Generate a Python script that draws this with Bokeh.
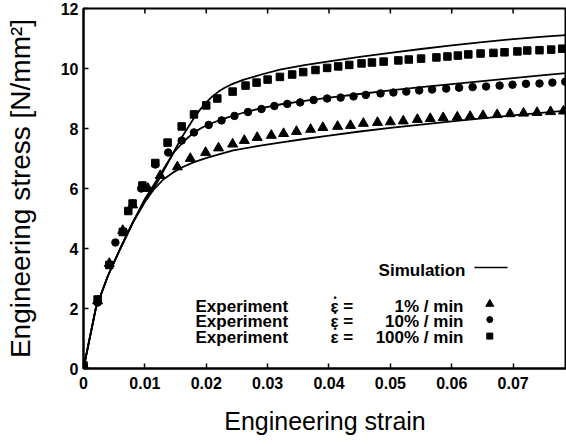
from bokeh.plotting import figure
from bokeh.models import Range1d, FixedTicker, Label
from bokeh.embed import file_html
from bokeh.resources import INLINE

# ---- axis ticks ----
x_ticks = [0.0, 0.01, 0.02, 0.03, 0.04, 0.05, 0.06, 0.07]
x_tick_labels = ["0", "0.01", "0.02", "0.03", "0.04", "0.05", "0.06", "0.07"]
y_ticks = [0, 2, 4, 6, 8, 10, 12]
y_tick_labels = ["0", "2", "4", "6", "8", "10", "12"]

# ---- experiment, 1 %/min (triangles) ----
exp1_x = [0.0, 0.0023, 0.0042, 0.0064, 0.0080, 0.0105, 0.0125, 0.0153, 0.0174, 0.0199,
          0.0220, 0.0243, 0.0262, 0.0283, 0.0306, 0.0326, 0.0347, 0.0370, 0.0390, 0.0414,
          0.0435, 0.0456, 0.0479, 0.0500, 0.0521, 0.0544, 0.0565, 0.0586, 0.0609, 0.0630,
          0.0651, 0.0674, 0.0695, 0.0717, 0.0739, 0.0761, 0.0782]
exp1_y = [0.1, 2.25, 3.5, 4.6, 5.45, 6.0, 6.43, 6.72, 7.0, 7.2,
          7.35, 7.48, 7.6, 7.7, 7.77, 7.83, 7.9, 7.97, 8.03, 8.07,
          8.1, 8.17, 8.2, 8.22, 8.25, 8.3, 8.33, 8.36, 8.38, 8.4,
          8.43, 8.46, 8.49, 8.51, 8.53, 8.56, 8.58]

# ---- experiment, 10 %/min (circles) ----
exp10_x = [0.0, 0.0023, 0.0052, 0.0066, 0.0094, 0.0117, 0.0138, 0.0160, 0.0180, 0.0204,
           0.0225, 0.0246, 0.0268, 0.0290, 0.0311, 0.0332, 0.0353, 0.0375, 0.0397, 0.0419,
           0.0440, 0.0460, 0.0484, 0.0505, 0.0526, 0.0547, 0.0568, 0.0591, 0.0612, 0.0634,
           0.0656, 0.0678, 0.0699, 0.0721, 0.0743, 0.0764, 0.0785]
exp10_y = [0.1, 2.2, 4.2, 4.55, 6.0, 6.8, 7.2, 7.6, 7.87, 8.12,
           8.27, 8.42, 8.55, 8.65, 8.75, 8.82, 8.87, 8.95, 9.0, 9.03,
           9.07, 9.12, 9.17, 9.2, 9.23, 9.27, 9.3, 9.33, 9.36, 9.38,
           9.4, 9.43, 9.46, 9.49, 9.5, 9.53, 9.56]

# ---- experiment, 100 %/min (squares) ----
exp100_x = [0.0, 0.0023, 0.0042, 0.0064, 0.0073, 0.0080, 0.0096, 0.0117, 0.0137, 0.0160,
            0.0180, 0.0200, 0.0218, 0.0243, 0.0264, 0.0282, 0.0300, 0.0320, 0.0340, 0.0358,
            0.0378, 0.0397, 0.0415, 0.0433, 0.0453, 0.0470, 0.0489, 0.0513, 0.0530, 0.0550,
            0.0575, 0.0593, 0.0610, 0.0627, 0.0647, 0.0668, 0.0686, 0.0707, 0.0723, 0.0743,
            0.0762, 0.0780]
exp100_y = [0.1, 2.3, 3.45, 4.55, 5.25, 5.5, 6.1, 6.85, 7.53, 8.07,
            8.47, 8.77, 9.0, 9.23, 9.43, 9.53, 9.63, 9.72, 9.8, 9.88,
            9.95, 10.02, 10.07, 10.12, 10.17, 10.2, 10.23, 10.27, 10.3, 10.33,
            10.37, 10.4, 10.43, 10.47, 10.5, 10.52, 10.54, 10.57, 10.6, 10.61,
            10.63, 10.66]

# ---- simulation curves ----
sim1_x = [0.0, 0.002, 0.004, 0.006, 0.008, 0.010, 0.0115, 0.013, 0.0145, 0.016, 0.018,
          0.0202, 0.0244, 0.0288, 0.032, 0.036, 0.040, 0.045, 0.050, 0.055, 0.060,
          0.065, 0.070, 0.075, 0.079]
sim1_y = [0.0, 2.0, 3.1, 4.0, 4.85, 5.55, 5.98, 6.3, 6.52, 6.7, 6.88,
          7.03, 7.27, 7.43, 7.53, 7.65, 7.76, 7.9, 8.02, 8.13, 8.24,
          8.34, 8.44, 8.53, 8.6]

sim10_x = [0.0, 0.002, 0.004, 0.006, 0.008, 0.010, 0.012, 0.0147, 0.0165, 0.018, 0.0195,
           0.0212, 0.0235, 0.0256, 0.0288, 0.032, 0.036, 0.040, 0.045, 0.050, 0.055,
           0.060, 0.065, 0.070, 0.075, 0.079]
sim10_y = [0.0, 2.0, 3.1, 4.0, 4.85, 5.65, 6.3, 7.2, 7.6, 7.87, 8.05,
           8.2, 8.37, 8.5, 8.67, 8.8, 8.92, 9.03, 9.15, 9.27, 9.38,
           9.48, 9.58, 9.68, 9.78, 9.85]

sim100_x = [0.0, 0.002, 0.004, 0.006, 0.008, 0.010, 0.012, 0.014, 0.016, 0.018, 0.019,
            0.020, 0.021, 0.022, 0.023, 0.024, 0.026, 0.029, 0.032, 0.036, 0.040,
            0.045, 0.050, 0.055, 0.060, 0.065, 0.070, 0.075, 0.079]
sim100_y = [0.0, 2.0, 3.1, 4.0, 4.85, 5.6, 6.2, 6.95, 7.7, 8.35, 8.63,
            8.87, 9.07, 9.23, 9.36, 9.46, 9.62, 9.8, 9.96, 10.11, 10.24,
            10.39, 10.52, 10.65, 10.77, 10.88, 10.98, 11.06, 11.12]

FONT = "Liberation Sans"

p = figure(width=566, height=446, output_backend="svg", toolbar_location=None,
           x_range=Range1d(0, 0.0787), y_range=Range1d(0, 12),
           min_border_left=83, min_border_right=0, min_border_top=8, min_border_bottom=78,
           x_axis_label="Engineering strain", y_axis_label="Engineering stress [N/mm²]")
p.grid.visible = False
p.outline_line_color = "black"
p.outline_line_width = 2
p.background_fill_color = "white"
p.border_fill_color = "white"

xa = p.xaxis[0]
xa.ticker = FixedTicker(ticks=x_ticks)
xa.major_label_overrides = {t: l for t, l in zip(x_ticks, x_tick_labels)}
ya = p.yaxis[0]
ya.ticker = FixedTicker(ticks=y_ticks)
ya.major_label_overrides = {t: l for t, l in zip(y_ticks, y_tick_labels)}
for ax in (xa, ya):
    ax.minor_tick_line_color = None
    ax.major_tick_in = 5
    ax.major_tick_out = 0
    ax.major_tick_line_width = 1.5
    ax.axis_line_width = 2
    ax.axis_line_color = "black"
    ax.major_tick_line_color = "black"
    ax.major_label_text_font = FONT
    ax.major_label_text_font_style = "bold"
    ax.major_label_text_font_size = "16px"
    ax.major_label_text_color = "black"
    ax.axis_label_text_font = FONT
    ax.axis_label_text_font_style = "normal"
    ax.axis_label_text_color = "black"
xa.major_label_standoff = 8
xa.axis_label_standoff = 15
xa.axis_label_text_font_size = "25px"
ya.major_label_standoff = 5
ya.axis_label_standoff = 22
ya.axis_label_text_font_size = "28px"

# inward tick marks along the top edge of the frame
top_tick_len = 0.17
p.segment(x0=x_ticks, y0=[12] * len(x_ticks), x1=x_ticks,
          y1=[12 - top_tick_len] * len(x_ticks), line_color="black", line_width=1.5)

# simulation lines
for sx, sy in ((sim1_x, sim1_y), (sim10_x, sim10_y), (sim100_x, sim100_y)):
    p.line(sx, sy, line_color="black", line_width=1.8)

# experiments
p.scatter(exp1_x, exp1_y, marker="triangle", size=10, color="black")
p.scatter(exp10_x, exp10_y, marker="circle", size=7.5, color="black")
p.scatter(exp100_x, exp100_y, marker="square", size=7.5, color="black")

# ---- legend (custom, inside plot) ----
leg_marker_x = 0.0662
leg_rows_y = [2.15, 1.63, 1.08]
p.scatter([leg_marker_x], [leg_rows_y[0]], marker="triangle", size=8, color="black")
p.scatter([leg_marker_x], [leg_rows_y[1]], marker="circle", size=6, color="black")
p.scatter([leg_marker_x], [leg_rows_y[2]], marker="square", size=6, color="black")
p.line([0.0637, 0.0691], [3.37, 3.37], line_color="black", line_width=1.5)

rates = ["1% / min", "10% / min", "100% / min"]
row_px = [306, 321, 337]


def lab(text, x, y, align, size="17px"):
    p.add_layout(Label(x=x - 83, y=368 - y, x_units="screen", y_units="screen", text=text,
                       text_font=FONT, text_font_style="bold", text_font_size=size,
                       text_align=align, text_baseline="middle", text_color="black"))


lab("Simulation", 465, 270, "right")
for i, r in enumerate(rates):
    lab("Experiment", 195, row_px[i], "left")
    lab("ε  =", 330, row_px[i], "left")
    lab("•", 334.5, row_px[i] - 9, "center", size="9px")
    lab(r, 463, row_px[i], "right")

open("out.html", "w").write(file_html(p, INLINE))
